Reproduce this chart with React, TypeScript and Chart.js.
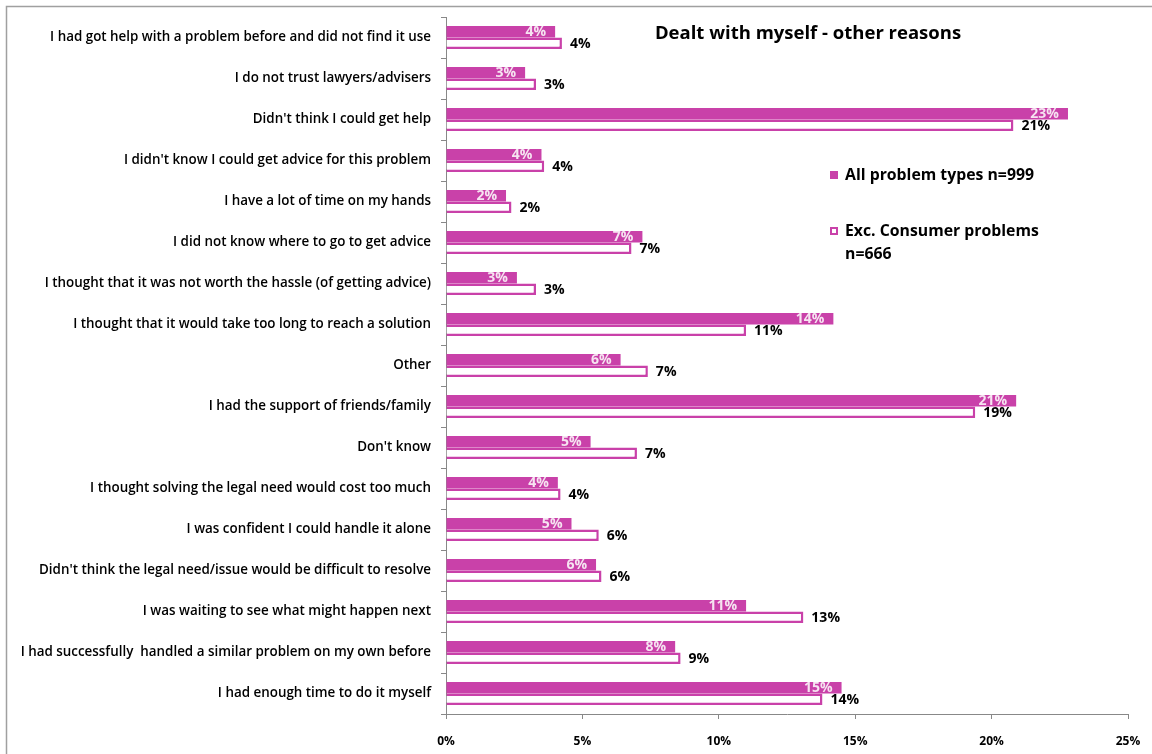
import React, { useEffect, useRef } from "react";
import { Chart, registerables } from "chart.js";

Chart.register(...registerables);

const categories = [
  "I had got help with a problem before and did not find it use",
  "I do not trust lawyers/advisers",
  "Didn't think I could get help",
  "I didn't know I could get advice for this problem",
  "I have a lot of time on my hands",
  "I did not know where to go to get advice",
  "I thought that it was not worth the hassle (of getting advice)",
  "I thought that it would take too long to reach a solution",
  "Other",
  "I had the support of friends/family",
  "Don't know",
  "I thought solving the legal need would cost too much",
  "I was confident I could handle it alone",
  "Didn't think the legal need/issue would be difficult to resolve",
  "I was waiting to see what might happen next",
  "I had successfully  handled a similar problem on my own before",
  "I had enough time to do it myself",
];

const allProblems = [4.0, 2.9, 22.8, 3.5, 2.2, 7.2, 2.6, 14.2, 6.4, 20.9, 5.3, 4.1, 4.6, 5.5, 11.0, 8.4, 14.5];
const excConsumer = [4.25, 3.3, 20.8, 3.6, 2.4, 6.8, 3.3, 11.0, 7.4, 19.4, 7.0, 4.2, 5.6, 5.7, 13.1, 8.6, 13.8];

const xTicks = [0, 5, 10, 15, 20, 25];

const seriesNames = ["All problem types n=999", "Exc. Consumer problems"];
const seriesSecondLine = ["", "n=666"];
const titleText = "Dealt with myself - other reasons";

const MAGENTA = "#C941A9";
const FONT = "'Open Sans', 'DejaVu Sans', sans-serif";

const overlayPlugin = {
  id: "overlay",
  beforeDraw(chart: any) {
    const ctx = chart.ctx;
    ctx.save();
    ctx.fillStyle = "#fff";
    ctx.fillRect(0, 0, chart.width, chart.height);
    ctx.strokeStyle = "#a0a0a0";
    ctx.lineWidth = 1.5;
    ctx.strokeRect(6.5, 6.5, chart.width + 20, chart.height + 20);
    ctx.restore();
  },
  afterDatasetsDraw(chart: any) {
    const ctx = chart.ctx;
    const area = chart.chartArea;
    ctx.save();
    // data labels
    chart.data.datasets.forEach((ds: any, di: number) => {
      const meta = chart.getDatasetMeta(di);
      meta.data.forEach((bar: any, i: number) => {
        const label = Math.round(ds.data[i]) + "%";
        ctx.font = `bold 14px ${FONT}`;
        ctx.textBaseline = "middle";
        if (di === 0) {
          ctx.fillStyle = "#f6e4f1";
          ctx.textAlign = "right";
          ctx.fillText(label, bar.x - 9, bar.y);
        } else {
          ctx.fillStyle = "#000";
          ctx.textAlign = "left";
          ctx.fillText(label, bar.x + 8, bar.y + 1);
        }
      });
    });
    // title
    ctx.fillStyle = "#000";
    ctx.font = `bold 18.5px ${FONT}`;
    ctx.textAlign = "center";
    ctx.textBaseline = "middle";
    ctx.fillText(titleText, 808, area.top + 17);
    // legend
    const lx = 830;
    ctx.font = `bold 15.8px ${FONT}`;
    ctx.textAlign = "left";
    ctx.fillStyle = MAGENTA;
    ctx.fillRect(lx, area.top + 154, 8, 8);
    ctx.strokeStyle = MAGENTA;
    ctx.lineWidth = 2;
    ctx.fillStyle = "#fff";
    ctx.fillRect(lx, area.top + 210, 8, 8);
    ctx.strokeRect(lx + 1, area.top + 211, 6, 6);
    ctx.fillStyle = "#000";
    ctx.fillText(seriesNames[0], lx + 15, area.top + 158);
    ctx.fillText(seriesNames[1], lx + 15, area.top + 214);
    ctx.fillText(seriesSecondLine[1], lx + 15, area.top + 237);
    ctx.restore();
  },
};

export default function App() {
  const ref = useRef<HTMLCanvasElement>(null);
  useEffect(() => {
    if (!ref.current) return;
    const chart = new Chart(ref.current, {
      type: "bar",
      data: {
        labels: categories,
        datasets: [
          {
            label: seriesNames[0],
            data: allProblems,
            backgroundColor: MAGENTA,
            borderColor: MAGENTA,
            borderWidth: 0,
            categoryPercentage: 0.56,
            barPercentage: 1,
          },
          {
            label: seriesNames[1] + " " + seriesSecondLine[1],
            data: excConsumer,
            backgroundColor: "#ffffff",
            borderColor: MAGENTA,
            borderWidth: 2.5,
            categoryPercentage: 0.56,
            barPercentage: 1,
          },
        ],
      },
      options: {
        indexAxis: "y",
        animation: false,
        responsive: true,
        maintainAspectRatio: false,
        layout: { padding: { top: 17, right: 24, bottom: 0, left: 0 } },
        plugins: {
          legend: { display: false },
          title: { display: false },
          tooltip: { enabled: false },
        },
        scales: {
          x: {
            min: 0,
            max: 25,
            afterBuildTicks: (s: any) => {
              s.ticks = xTicks.map((v) => ({ value: v }));
            },
            afterFit: (s: any) => {
              s.height = 40;
              s.paddingLeft = 0;
              s.paddingRight = 0;
            },
            grid: {
              drawOnChartArea: false,
              drawTicks: true,
              tickLength: 5,
              color: "#888",
            },
            border: { color: "#888", width: 1 },
            ticks: {
              callback: (v: any) => v + "%",
              color: "#000",
              padding: 15,
              font: { family: FONT, size: 12, weight: "bold" },
            },
          },
          y: {
            afterFit: (s: any) => {
              s.width = 446;
              s.paddingTop = 0;
              s.paddingBottom = 0;
            },
            grid: {
              drawOnChartArea: false,
              drawTicks: true,
              tickLength: 5,
              offset: true,
              color: "#888",
            },
            border: { color: "#888", width: 1 },
            ticks: {
              color: "#000",
              padding: 10,
              font: { family: FONT, size: 13.4, weight: 600 },
            },
          },
        },
      },
      plugins: [overlayPlugin],
    });
    return () => chart.destroy();
  }, []);
  return (
    <div style={{ position: "fixed", left: 0, top: 0, width: 1152, height: 754 }}>
      <canvas ref={ref} />
    </div>
  );
}
